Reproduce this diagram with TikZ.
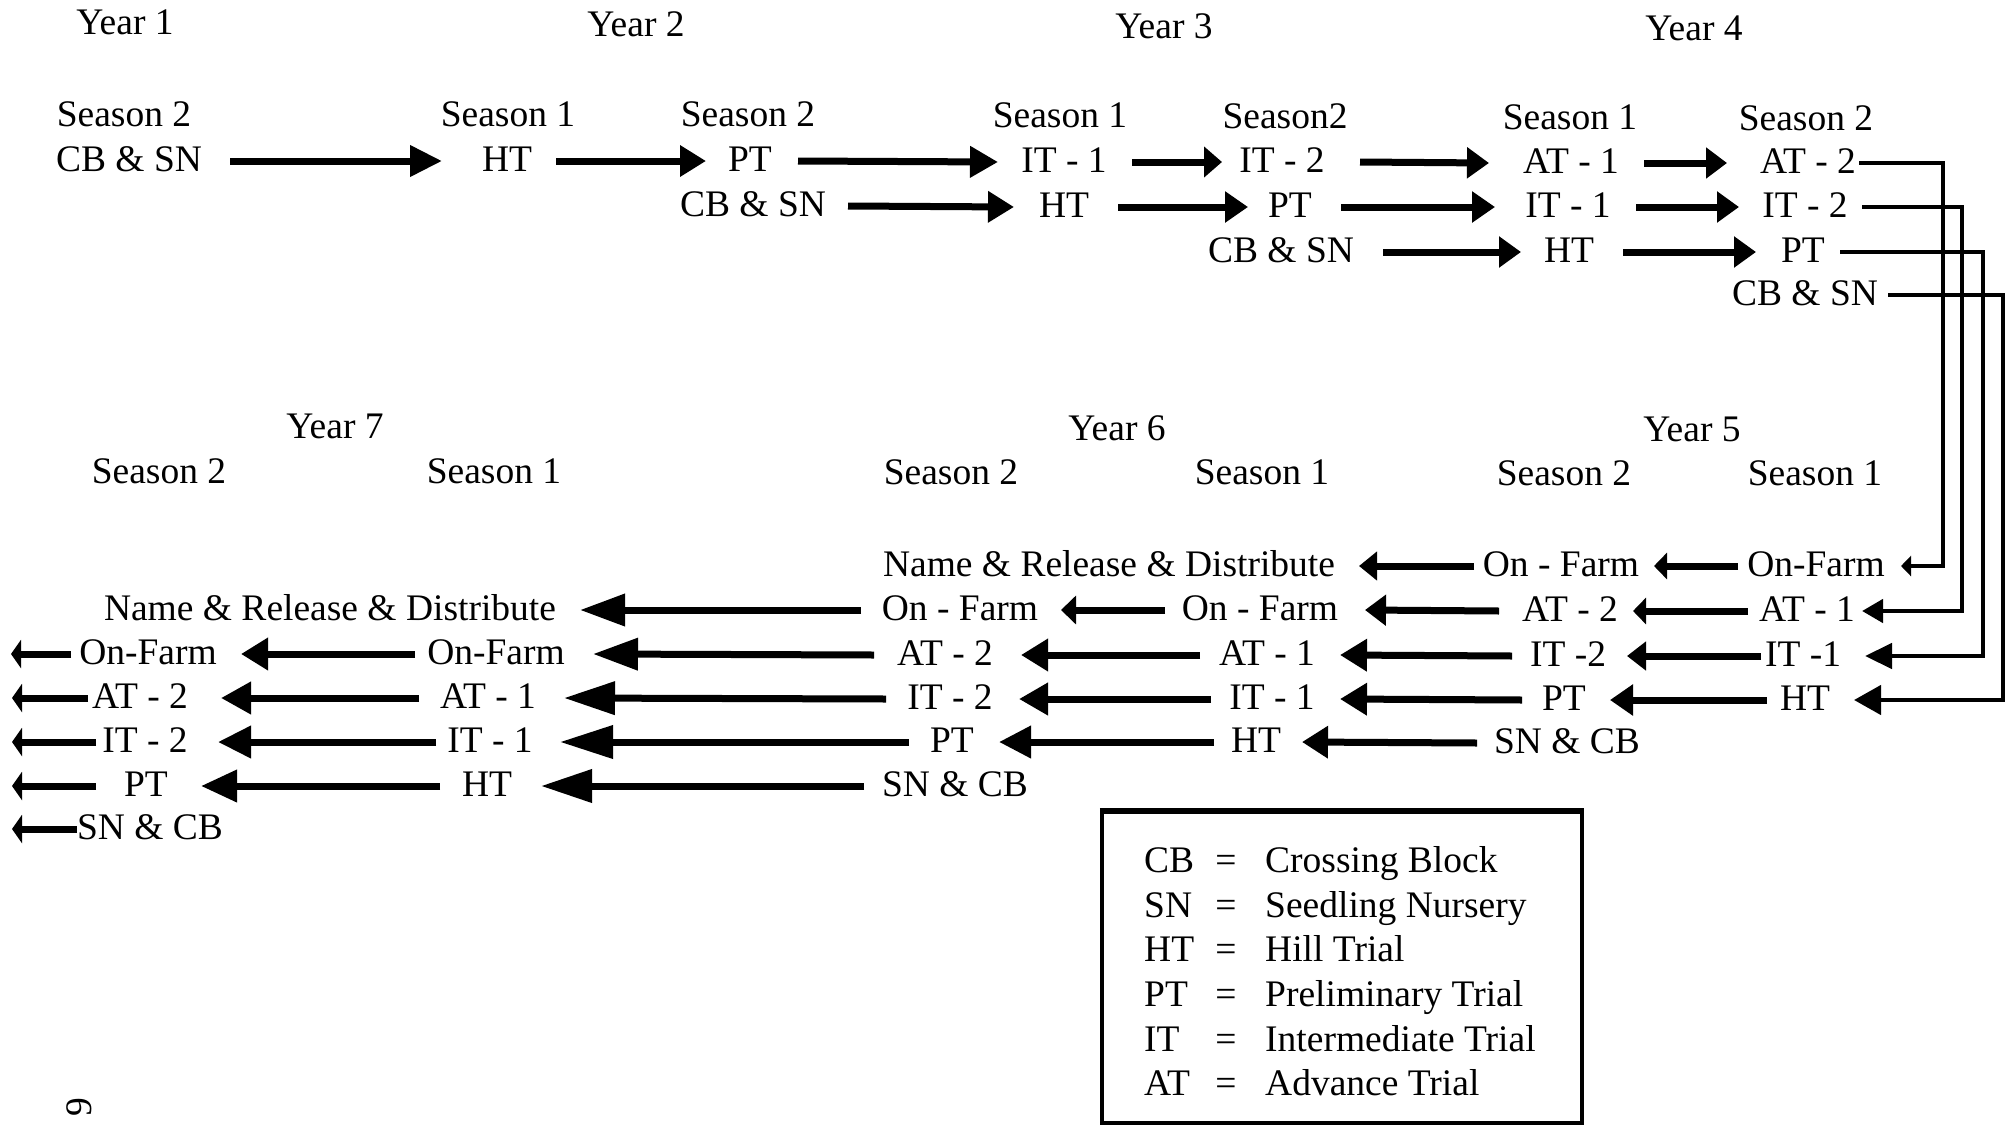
\documentclass[tikz,border=0pt]{standalone}
\usepackage{fontspec}
\setmainfont{Liberation Serif}
\usetikzlibrary{arrows.meta}
\begin{document}
\begin{tikzpicture}[x=1pt,y=-1pt,
  every node/.style={inner sep=0pt, text height=26pt, text depth=6pt,
                     font=\fontsize{37.5}{45}\selectfont},
  arr/.style 2 args={line width=7pt, -{Triangle[length=#1pt,width=#2pt]}},
  conn/.style 2 args={line width=4.5pt, -{Triangle[length=#1pt,width=#2pt]}},
  legendbox/.style={line width=4.5pt}]
\useasboundingbox (0,0) rectangle (2007,1127);

% ---------------- years 1 to 4 ----------------
\node (y1) at (125,24) {Year 1};
\node (y2) at (636,26) {Year 2};
\node (y3) at (1164,28) {Year 3};
\node (y4) at (1694,30) {Year 4};

\node (s12) at (124,116) {Season 2};
\node (s21) at (508,116) {Season 1};
\node (s22) at (748,116) {Season 2};
\node (s31) at (1060,117) {Season 1};
\node (s32) at (1285,118) {Season2};
\node (s41) at (1570,119) {Season 1};
\node (s42) at (1806,120) {Season 2};

% first line
\node (a1) at (129,161) {CB \& SN};
\node (a2) at (507,161) {HT};
\node (a3) at (750,161) {PT};
\node (a4) at (1064,162) {IT - 1};
\node (a5) at (1282,162) {IT - 2};
\node (a6) at (1571,163) {AT - 1};
\node (a7) at (1808,163) {AT - 2};
% second line
\node (b1) at (753,206) {CB \& SN};
\node (b2) at (1064,207) {HT};
\node (b3) at (1290,207) {PT};
\node (b4) at (1568,207) {IT - 1};
\node (b5) at (1805,207) {IT - 2};
% third line
\node (c1) at (1281,252) {CB \& SN};
\node (c2) at (1569,252) {HT};
\node (c3) at (1803,252) {PT};
% fourth line
\node (d1) at (1805,295) {CB \& SN};

\draw[arr={32}{30}] ([xshift=101pt]a1.center) -- ([xshift=-65pt]a2.center);
\draw[arr={26}{30}] ([xshift=49pt]a2.center) -- ([xshift=-44pt]a3.center);
\draw[arr={28}{30}] ([xshift=48pt]a3.center) -- ([xshift=-66pt]a4.center);
\draw[arr={18}{30}] ([xshift=68pt]a4.center) -- ([xshift=-60pt]a5.center);
\draw[arr={22}{30}] ([xshift=78pt]a5.center) -- ([xshift=-82pt]a6.center);
\draw[arr={21}{30}] ([xshift=73pt]a6.center) -- ([xshift=-81pt]a7.center);

\draw[arr={26}{30}] ([xshift=95pt]b1.center) -- ([xshift=-50pt]b2.center);
\draw[arr={23}{30}] ([xshift=54pt]b2.center) -- ([xshift=-42pt]b3.center);
\draw[arr={23}{30}] ([xshift=51pt]b3.center) -- ([xshift=-73pt]b4.center);
\draw[arr={22}{30}] ([xshift=68pt]b4.center) -- ([xshift=-66pt]b5.center);

\draw[arr={22}{30}] ([xshift=102pt]c1.center) -- ([xshift=-48pt]c2.center);
\draw[arr={22}{30}] ([xshift=54pt]c2.center) -- ([xshift=-47pt]c3.center);

% ---------------- years 5 to 7 ----------------
\node (y7) at (335,428) {Year 7};
\node (y6) at (1117,430) {Year 6};
\node (y5) at (1692,431) {Year 5};

\node (s72) at (159,473) {Season 2};
\node (s71) at (494,473) {Season 1};
\node (s62) at (951,474) {Season 2};
\node (s61) at (1262,474) {Season 1};
\node (s52) at (1564,475) {Season 2};
\node (s51) at (1815,475) {Season 1};

% row A
\node (A6)  at (1109,566) {Name \& Release \& Distribute};
\node (A52) at (1561,566) {On - Farm};
\node (A51) at (1816,566) {On-Farm};
% row B
\node (B7)  at (330,610) {Name \& Release \& Distribute};
\node (B62) at (960,610) {On - Farm};
\node (B61) at (1260,610) {On - Farm};
\node (B52) at (1570,611) {AT - 2};
\node (B51) at (1807,611) {AT - 1};
% row C
\node (C72) at (148,654) {On-Farm};
\node (C71) at (496,654) {On-Farm};
\node (C62) at (945,655) {AT - 2};
\node (C61) at (1267,655) {AT - 1};
\node (C52) at (1568,656) {IT -2};
\node (C51) at (1803,656) {IT -1};
% row D
\node (D72) at (140,698) {AT - 2};
\node (D71) at (488,698) {AT - 1};
\node (D62) at (950,699) {IT - 2};
\node (D61) at (1272,699) {IT - 1};
\node (D52) at (1564,700) {PT};
\node (D51) at (1805,700) {HT};
% row E
\node (E72) at (145,742) {IT - 2};
\node (E71) at (490,742) {IT - 1};
\node (E62) at (952,742) {PT};
\node (E61) at (1256,742) {HT};
\node (E52) at (1567,743) {SN \& CB};
% row F
\node (F72) at (146,786) {PT};
\node (F71) at (487,786) {HT};
\node (F62) at (955,786) {SN \& CB};
% row G
\node (G72) at (150,829) {SN \& CB};

% loose ends on the left margin
\coordinate (eC) at (11,654);
\coordinate (eD) at (12,698);
\coordinate (eE) at (12,742);
\coordinate (eF) at (12,786);
\coordinate (eG) at (12,829);

% row A arrows
\draw[arr={13}{26}] ([xshift=-78pt]A51.center) -- ([xshift=93pt]A52.center);
\draw[arr={18}{28}] ([xshift=-87pt]A52.center) -- ([xshift=250pt]A6.center);
% row B arrows
\draw[arr={13}{26}] ([xshift=-59pt]B51.center) -- ([xshift=63pt]B52.center);
\draw[arr={21}{30}] ([xshift=-71pt]B52.center) -- ([xshift=105pt]B61.center);
\draw[arr={15}{28}] ([xshift=-95pt]B61.center) -- ([xshift=101pt]B62.center);
\draw[arr={45}{31}] ([xshift=-99pt]B62.center) -- ([xshift=250pt]B7.center);
% row C arrows
\draw[arr={19}{28}] ([xshift=-42pt]C51.center) -- ([xshift=59pt]C52.center);
\draw[arr={27}{31}] ([xshift=-56pt]C52.center) -- ([xshift=73pt]C61.center);
\draw[arr={27}{31}] ([xshift=-67pt]C61.center) -- ([xshift=76pt]C62.center);
\draw[arr={45}{31}] ([xshift=-71pt]C62.center) -- ([xshift=97pt]C71.center);
\draw[arr={27}{31}] ([xshift=-81pt]C71.center) -- ([xshift=93pt]C72.center);
\draw[arr={10}{28}] ([xshift=-77pt]C72.center) -- (eC);
% row D arrows
\draw[arr={23}{30}] ([xshift=-38pt]D51.center) -- ([xshift=46pt]D52.center);
\draw[arr={27}{31}] ([xshift=-42pt]D52.center) -- ([xshift=68pt]D61.center);
\draw[arr={29}{31}] ([xshift=-61pt]D61.center) -- ([xshift=69pt]D62.center);
\draw[arr={51}{32}] ([xshift=-64pt]D62.center) -- ([xshift=76pt]D71.center);
\draw[arr={30}{31}] ([xshift=-69pt]D71.center) -- ([xshift=81pt]D72.center);
\draw[arr={10}{28}] ([xshift=-52pt]D72.center) -- (eD);
% row E arrows
\draw[arr={26}{31}] ([xshift=-90pt]E52.center) -- ([xshift=46pt]E61.center);
\draw[arr={32}{31}] ([xshift=-42pt]E61.center) -- ([xshift=47pt]E62.center);
\draw[arr={53}{32}] ([xshift=-43pt]E62.center) -- ([xshift=70pt]E71.center);
\draw[arr={33}{31}] ([xshift=-54pt]E71.center) -- ([xshift=73pt]E72.center);
\draw[arr={10}{28}] ([xshift=-49pt]E72.center) -- (eE);
% row F arrows
\draw[arr={51}{32}] ([xshift=-91pt]F62.center) -- ([xshift=54pt]F71.center);
\draw[arr={36}{31}] ([xshift=-47pt]F71.center) -- ([xshift=55pt]F72.center);
\draw[arr={10}{28}] ([xshift=-50pt]F72.center) -- (eF);
% row G arrow
\draw[arr={10}{28}] ([xshift=-73pt]G72.center) -- (eG);

% links from year 4 down to year 5
\draw[conn={10}{20}] ([xshift=51pt]a7.center) -- ++(84pt,0pt) |- ([xshift=85pt]A51.center);
\draw[conn={21}{23}] ([xshift=57pt]b5.center) -- ++(100pt,0pt) |- ([xshift=55pt]B51.center);
\draw[conn={27}{25}] ([xshift=37pt]c3.center) -- ++(143pt,0pt) |- ([xshift=62pt]C51.center);
\draw[conn={27}{29}] ([xshift=83pt]d1.center) -- ++(115pt,0pt) |- ([xshift=49pt]D51.center);

% ---------------- legend ----------------
\draw[legendbox] (1102,810) rectangle (1582,1123);
\draw[line width=6pt] (1099.75,811) -- (1584.25,811);

\foreach \ab/\txt [count=\i] in {CB/Crossing Block, SN/Seedling Nursery, HT/Hill Trial,
                                  PT/Preliminary Trial, IT/Intermediate Trial, AT/Advance Trial}{
  \node[anchor=west] (ab\i) at (1144,{818+44.6*\i}) {\ab};
  \node (eq\i) at (1226,{818+44.6*\i}) {=};
  \node[anchor=west] (df\i) at (1265,{818+44.6*\i}) {\txt};
}

% page number
\node[rotate=90] (pg) at (81,1107) {9};
\end{tikzpicture}
\end{document}
